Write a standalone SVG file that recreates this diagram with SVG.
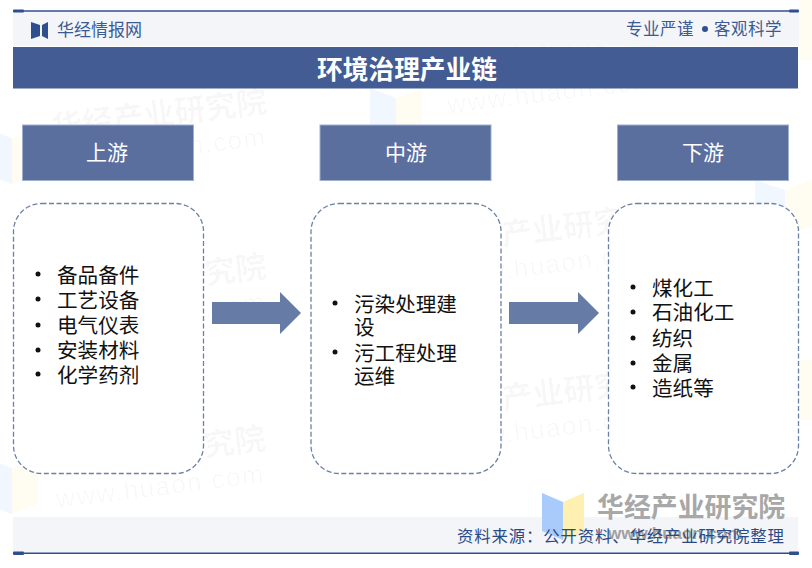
<svg xmlns="http://www.w3.org/2000/svg" width="812" height="568" viewBox="0 0 812 568">
<style>
text{font-family:"Noto Sans CJK SC","Liberation Sans",sans-serif}
.wm{font-weight:700;font-size:31px;fill:#000;fill-opacity:.035}
.wu{font-family:"Liberation Sans",sans-serif;font-size:26px;fill:#000;fill-opacity:.03;letter-spacing:1.5px}
.hd{fill:#5b6f9f;stroke:#9fb0cf;stroke-width:1}
.ht{font-size:21px;fill:#fff;text-anchor:middle}
.box{fill:#fff;stroke:#6b80a8;stroke-width:1.3;stroke-dasharray:5 2.5}
.li{font-size:20.6px;fill:#111}
.arr{fill:#667ca6}
.blt{fill:#111}
.lb{fill:#a9cbfb;fill-opacity:.16}
.ly{fill:#fdf0b0;fill-opacity:.16}
</style>
<rect width="812" height="568" fill="#fff"/>
<g id="watermarks">
<path class="lb" d="M-14 128l26 10v46l-26-10z"/><path class="ly" d="M12 138l26-10v46l-26 10z"/>
<path class="lb" d="M-14 458l26 10v46l-26-10z"/><path class="ly" d="M12 468l26-10v46l-26 10z"/>
<path class="lb" d="M370 88l26 10v30l-26-4z"/><path class="ly" d="M396 98l26-10v36l-26 4z"/>
<path class="lb" d="M755 180l30 10v46l-30-10z"/><path class="ly" d="M785 190l27-10v46l-27 10z"/>
<path class="ly" d="M799 0h13v60h-13z"/>
<path class="ly" d="M799 360h13v60h-13z"/>
<g transform="rotate(-7 160 110)"><text class="wm" x="50" y="125">华经产业研究院</text><text class="wu" x="52" y="158">www.huaon.com</text></g>
<g transform="rotate(-7 160 280)"><text class="wm" x="50" y="290">华经产业研究院</text><text class="wu" x="52" y="323">www.huaon.com</text></g>
<g transform="rotate(-7 160 460)"><text class="wm" x="50" y="462">华经产业研究院</text><text class="wu" x="52" y="495">www.huaon.com</text></g>
<g transform="rotate(-7 500 60)"><text class="wm" x="440" y="74">华经产业研究院</text><text class="wu" x="442" y="107">www.huaon.com</text></g>
<g transform="rotate(-7 500 240)"><text class="wm" x="440" y="246">华经产业研究院</text><text class="wu" x="442" y="279">www.huaon.com</text></g>
<g transform="rotate(-7 500 400)"><text class="wm" x="440" y="410">华经产业研究院</text><text class="wu" x="442" y="443">www.huaon.com</text></g>
</g>
<g id="header">
<rect x="13" y="11" width="786" height="35" fill="#f3f5f9"/>
<rect x="13" y="10" width="785" height="2" fill="#6479a5"/>
<rect x="13" y="9.500" width="11" height="3" rx="1" fill="#2e4f8f"/>
<rect x="789" y="9.500" width="10" height="3" rx="1" fill="#2e4f8f"/>
<path d="M31 22l9 3v11l-9 3zM48 22l-6 3v11l6 3z" fill="#2e4f8f"/>
<text x="57" y="36" font-size="17" fill="#3c5a93">华经情报网</text>
<text x="626" y="35" font-size="16.500" fill="#3c5a93" letter-spacing=".5">专业严谨</text>
<circle cx="705" cy="29" r="3" fill="#2e4f8f"/>
<text x="714" y="35" font-size="16.500" fill="#3c5a93" letter-spacing=".5">客观科学</text>
</g>
<g id="title">
<rect x="13" y="47" width="785" height="41.500" fill="#435c93"/>
<text x="407" y="78.500" font-size="25.700" font-weight="700" fill="#fff" text-anchor="middle">环境治理产业链</text>
</g>
<g id="up"><rect class="hd" x="22.500" y="125" width="171" height="55.500"/><text class="ht" x="107" y="160">上游</text></g>
<g id="mid"><rect class="hd" x="320" y="125" width="171" height="55.500"/><text class="ht" x="406" y="160">中游</text></g>
<g id="down"><rect class="hd" x="617.500" y="125" width="171" height="55.500"/><text class="ht" x="703" y="160">下游</text></g>
<g id="box-up"><rect class="box" x="13.500" y="203.500" width="190" height="270" rx="28"/>
<g class="blt"><circle cx="38" cy="274" r="2.500"/><circle cx="38" cy="299" r="2.500"/><circle cx="38" cy="325" r="2.500"/><circle cx="38" cy="350" r="2.500"/><circle cx="38" cy="374" r="2.500"/></g>
<text class="li" x="57" y="282.500">备品备件</text><text class="li" x="57" y="307.500">工艺设备</text><text class="li" x="57" y="333">电气仪表</text><text class="li" x="57" y="358">安装材料</text><text class="li" x="57" y="383">化学药剂</text></g>
<g id="box-mid"><rect class="box" x="311" y="203.500" width="190" height="270" rx="28"/>
<g class="blt"><circle cx="335" cy="303" r="2.500"/><circle cx="335" cy="352" r="2.500"/></g>
<text class="li" x="354" y="311.500">污染处理建</text><text class="li" x="354" y="334.500">设</text><text class="li" x="354" y="360.500">污工程处理</text><text class="li" x="354" y="383.500">运维</text></g>
<g id="box-down"><rect class="box" x="608.500" y="203.500" width="190" height="270" rx="28"/>
<g class="blt"><circle cx="633" cy="287" r="2.500"/><circle cx="633" cy="312" r="2.500"/><circle cx="633" cy="338" r="2.500"/><circle cx="633" cy="363" r="2.500"/><circle cx="633" cy="387" r="2.500"/></g>
<text class="li" x="652" y="295.500">煤化工</text><text class="li" x="652" y="320">石油化工</text><text class="li" x="652" y="346">纺织</text><text class="li" x="652" y="371">金属</text><text class="li" x="652" y="395.500">造纸等</text></g>
<g id="connectors">
<path class="arr" d="M212 302h68v-10l21 21-21 21v-10h-68z"/>
<path class="arr" d="M509 302h69v-10l21 21-21 21v-10h-69z"/>
</g>
<g id="footer">
<rect x="13" y="517" width="785" height="36" fill="#f3f5f9"/>
<rect x="13" y="552.500" width="785" height="1.500" fill="#2e4f8f"/>
<rect x="13" y="551.500" width="11" height="3.500" rx="1" fill="#2e4f8f"/>
<rect x="789" y="551.500" width="10" height="3.500" rx="1" fill="#2e4f8f"/>
<path d="M542 493l21 9v38l-21-9z" fill="#a9cbfb"/>
<path d="M563 502l21-9v38l-21 9z" fill="#fdf0b0"/>
<text x="597" y="517" font-size="26.900" font-weight="700" fill="#a8a8a8">华经产业研究院</text>
<text x="608" y="539" font-size="17" font-weight="700" fill="#a0a0a0" style="font-family:'Liberation Sans',sans-serif">www.huaon.com</text>
<text x="457" y="542" font-size="16.400" fill="#2a4a86" letter-spacing=".86">资料来源：公开资料、华经产业研究院整理</text>
</g>
</svg>
